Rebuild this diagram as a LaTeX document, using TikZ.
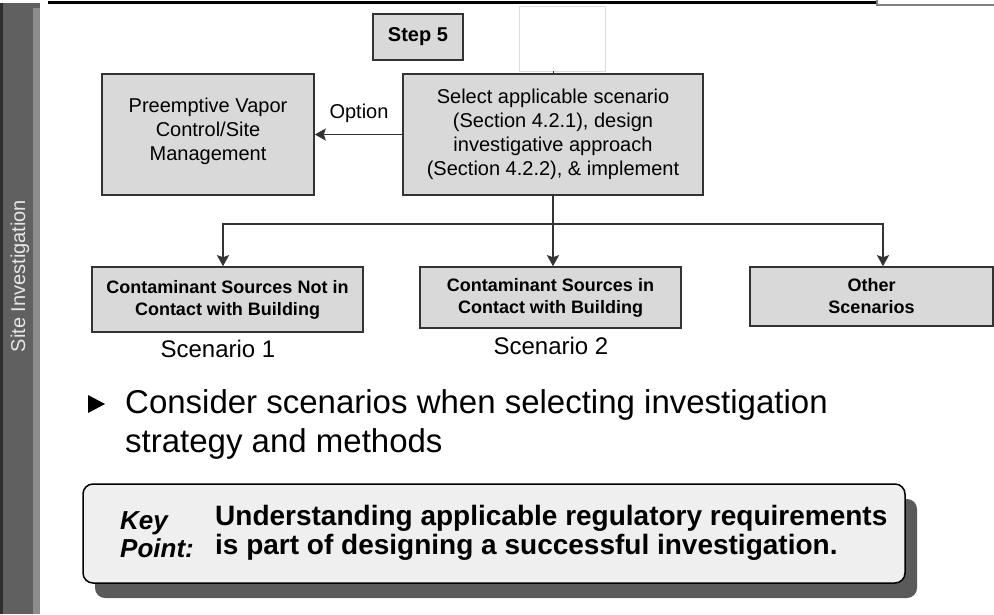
\documentclass[tikz,border=0pt]{standalone}
\usepackage{fontspec}
\setmainfont{Liberation Sans}
\usepackage{xcolor}
\usepackage{tikz}
\usetikzlibrary{arrows.meta, positioning, shadows}
\definecolor{boxfill}{HTML}{D9D9D9}
\definecolor{boxline}{HTML}{333333}
\definecolor{keyfill}{HTML}{EFEFEF}
\definecolor{sidebar}{HTML}{606060}
\definecolor{sidedark}{HTML}{2E2E2E}
\definecolor{sideedge}{HTML}{8C8C8C}
\definecolor{sidetext}{HTML}{E6E6E6}
\definecolor{shadowgray}{HTML}{5A5A5A}
\definecolor{faint}{HTML}{DCDCDC}

\begin{document}
\begin{tikzpicture}[x=1pt, y=-1pt,
    box/.style={draw=boxline, line width=1.6pt, fill=boxfill, align=center, inner sep=0pt, font=\fontsize{20}{24}\selectfont},
    scenbox/.style={box, font=\bfseries\fontsize{18}{22}\selectfont},
    link/.style={draw=boxline, line width=1.8pt},
    arrow/.style={link, -{Stealth[length=11pt, width=12pt, inset=2pt]}},
    bigtext/.style={anchor=base west, inner sep=0pt, font=\fontsize{33}{39}\selectfont},
    keytext/.style={anchor=base west, inner sep=0pt, font=\bfseries\fontsize{28}{30}\selectfont},
    keyword/.style={keytext, font=\bfseries\itshape\fontsize{26}{28}\selectfont},
]
    \useasboundingbox (0,0) rectangle (994,614);

    % side bar and top rule
    \fill[sidebar] (0,3) rectangle (40,614);
    \fill[sidedark] (0,3) rectangle (3,614);
    \fill[sideedge] (33,8) rectangle (40,614);
    \node[rotate=90, text=sidetext, font=\fontsize{20}{24}\selectfont] (side) at (20,276) {Site Investigation};
    \draw[line width=3pt] (48,2) -- (877,2);
    \draw[gray, line width=1.5pt] (877,0) -- (877,5) -- (994,5);

    \node[box, font=\bfseries\fontsize{20}{24}\selectfont, minimum width=90pt, minimum height=46pt] (step) at (418,37) {Step 5};
    \node[draw=faint, line width=0.6pt, minimum width=86pt, minimum height=65pt] (blank) at (562,38.5) {};
    \node[box, minimum width=300pt, minimum height=121pt] (main) at (553,134.5) {Select applicable scenario\\(Section 4.2.1), design\\investigative approach\\(Section 4.2.2), \& implement};
    \node[box, minimum width=212pt, minimum height=121pt] (pre) at (208,134.5) {Preemptive Vapor\\Control/Site\\Management\\[-13pt]};
    \node[font=\fontsize{20}{24}\selectfont] (opt) at (359,113) {Option};

    \node[scenbox, minimum width=271pt, minimum height=65pt] (s1) at (227.5,299.5) {Contaminant Sources Not in\\Contact with Building};
    \node[scenbox, minimum width=261pt, minimum height=61pt] (s2) at (550.5,297.5) {Contaminant Sources in\\Contact with Building};
    \node[scenbox, minimum width=243pt, minimum height=59pt] (s3) at (871.5,296.5) {Other\\Scenarios};
    \node[font=\fontsize{24}{28}\selectfont] (lab1) at (218,349) {Scenario 1};
    \node[font=\fontsize{24}{28}\selectfont] (lab2) at (551,346) {Scenario 2};

    \draw[link, line width=0.8pt] (main.north) -- (main.north |- blank.south);
    \draw[arrow] (main) -- (pre);
    \draw[link] (main.south) -- (main.south |- 0,224) coordinate (split);
    \draw[arrow] (split) -| ([xshift=-4.5pt]s1.north);
    \draw[arrow] (split) -- (split |- s2.north);
    \draw[arrow] (split) -| ([xshift=11.5pt]s3.north);

    \fill (88,395) -- (105,404) -- (88,413) -- cycle;
    \node[bigtext] (bul1) at (125,413) {Consider scenarios when selecting investigation};
    \node[bigtext] (bul2) at (125,452) {strategy and methods};

    \node[draw=black, line width=1.5pt, fill=keyfill, rounded corners=10pt, minimum width=822pt, minimum height=99pt,
          drop shadow={shadow xshift=12pt, shadow yshift=-15pt, fill=shadowgray, opacity=1}] (key) at (494,533.5) {};
    \node[keyword] (kw1) at (120,529) {Key};
    \node[keyword] (kw2) at (120,557) {Point:};
    \node[keytext] (kt1) at (215,525) {Understanding applicable regulatory requirements};
    \node[keytext] (kt2) at (215,554) {is part of designing a successful investigation.};
\end{tikzpicture}
\end{document}
